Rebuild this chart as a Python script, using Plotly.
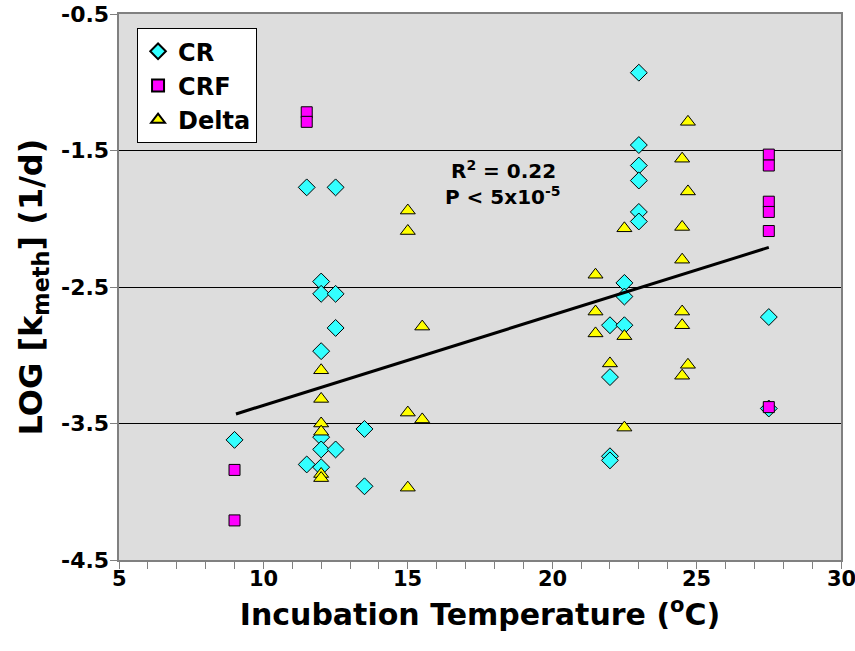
import plotly.graph_objects as go

# CR (diamonds)
cr_x = [9, 11.5, 12.5, 12, 12, 12.5, 12.5, 12, 12, 12, 12.5, 11.5, 12, 13.5, 13.5,
        23, 23, 23, 23, 23, 23, 22.5, 22.5, 22, 22.5, 27.5, 22, 22, 22, 27.5]
cr_y = [-3.62, -1.77, -1.77, -2.46, -2.55, -2.55, -2.80, -2.97, -3.60, -3.69, -3.69, -3.80, -3.82, -3.54, -3.96,
        -0.93, -1.46, -1.61, -1.72, -1.95, -2.02, -2.47, -2.57, -2.78, -2.78, -2.72, -3.16, -3.74, -3.77, -3.39]

# CRF (squares)
crf_x = [9, 9, 11.5, 11.5, 27.5, 27.5, 27.5, 27.5, 27.5, 27.5]
crf_y = [-3.84, -4.21, -1.22, -1.29, -1.53, -1.61, -1.875, -1.95, -2.09, -3.38]

# Delta (triangles)
delta_x = [12, 12, 12, 12, 12, 12, 15, 15.5, 15, 15, 15, 15.5,
           24.7, 24.5, 24.7, 24.5, 22.5, 24.5, 21.5, 21.5, 24.5, 24.5, 21.5, 22.5,
           22, 24.7, 24.5, 22.5]
delta_y = [-3.11, -3.32, -3.50, -3.56, -3.87, -3.90, -3.42, -3.47, -3.97, -1.94, -2.09, -2.79,
           -1.29, -1.56, -1.80, -2.06, -2.07, -2.30, -2.41, -2.68, -2.68, -2.78, -2.84, -2.86,
           -3.06, -3.07, -3.15, -3.53]

# Trend line endpoints
trend_x = [9.05, 27.5]
trend_y = [-3.43, -2.21]

x_ticks = [5, 10, 15, 20, 25, 30]
x_labels = ["5", "10", "15", "20", "25", "30"]
y_ticks = [-4.5, -3.5, -2.5, -1.5, -0.5]
y_labels = ["-4.5", "-3.5", "-2.5", "-1.5", "-0.5"]

FONT = "DejaVu Sans, Arial, sans-serif"
BOLD = dict(family=FONT, color="black", weight=700)

fig = go.Figure()
fig.add_trace(go.Scatter(x=cr_x, y=cr_y, mode="markers", name="CR",
                         marker=dict(symbol="diamond", size=13, color="#33FFFF",
                                     line=dict(color="black", width=1))))
fig.add_trace(go.Scatter(x=crf_x, y=crf_y, mode="markers", name="CRF",
                         marker=dict(symbol="square", size=11, color="#FF00FF",
                                     line=dict(color="black", width=1))))
fig.add_trace(go.Scatter(x=delta_x, y=delta_y, mode="markers", name="Delta",
                         marker=dict(symbol="triangle-up", size=13, color="#FFFF00",
                                     line=dict(color="black", width=1))))
fig.add_trace(go.Scatter(x=trend_x, y=trend_y, mode="lines", showlegend=False,
                         line=dict(color="black", width=3)))

fig.add_annotation(x=18.3, y=-1.64, text="R<sup>2</sup> = 0.22", showarrow=False,
                   font=dict(BOLD, size=20))
fig.add_annotation(x=18.3, y=-1.83, text="P < 5x10<sup>-5</sup>", showarrow=False,
                   font=dict(BOLD, size=20))

# Bold tick labels placed on the axes' own scales
for v, t in zip(x_ticks, x_labels):
    fig.add_annotation(x=v, xref="x", y=0, yref="paper", text=t, showarrow=False,
                       xanchor="center", yanchor="top", yshift=-7, borderpad=0, borderwidth=0,
                       font=dict(BOLD, size=21))
for v, t in zip(y_ticks, y_labels):
    fig.add_annotation(x=0, xref="paper", y=v, yref="y", text=t, showarrow=False,
                       xanchor="right", yanchor="middle", xshift=-10, borderpad=0, borderwidth=0,
                       font=dict(BOLD, size=22))

fig.update_layout(
    width=855, height=651,
    margin=dict(l=119, r=14, t=14, b=91),
    paper_bgcolor="white",
    plot_bgcolor="#DDDDDD",
    font=dict(BOLD, size=20),
    legend=dict(x=0.025, y=0.974, xanchor="left", yanchor="top",
                bgcolor="white", bordercolor="black", borderwidth=1,
                itemsizing="constant",
                font=dict(BOLD, size=24)),
    xaxis=dict(range=[5, 30], tickvals=x_ticks, showticklabels=False,
               ticks="outside", ticklen=7, tickcolor="#808080", tickwidth=1,
               minor=dict(dtick=1, ticks="outside", ticklen=7, tickcolor="#808080", showgrid=False),
               showgrid=False, zeroline=False, automargin=False,
               showline=True, linecolor="#808080", linewidth=2, mirror=True,
               title=dict(text="Incubation Temperature (<sup>o</sup>C)", standoff=36,
                          font=dict(BOLD, size=30))),
    yaxis=dict(range=[-4.5, -0.5], tickvals=y_ticks, showticklabels=False,
               ticks="outside", ticklen=7, tickcolor="#808080", tickwidth=1,
               showgrid=True, gridcolor="black", gridwidth=1, zeroline=False, automargin=False,
               showline=True, linecolor="#808080", linewidth=2, mirror=True,
               title=dict(text="LOG [k<sub>meth</sub>] (1/d)", standoff=58,
                          font=dict(BOLD, size=32))),
)

fig.write_html("out.html")
